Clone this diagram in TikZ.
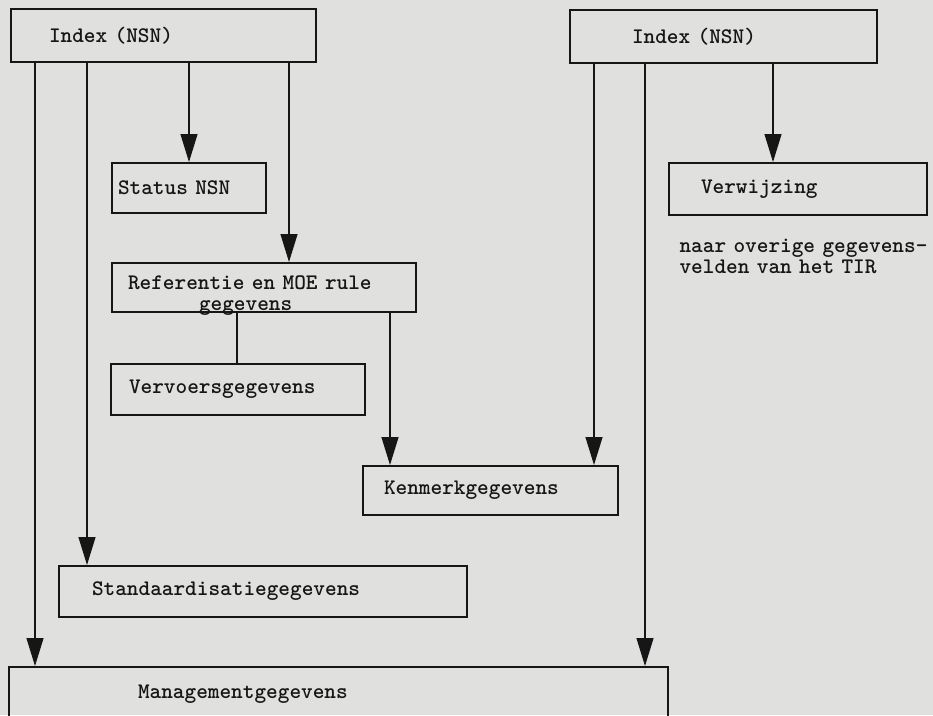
\documentclass[tikz,border=0pt]{standalone}
\usetikzlibrary{arrows.meta}
\definecolor{paper}{RGB}{224,224,222}
\definecolor{ink}{RGB}{22,22,22}
\newcommand\typewriterfont{\ttfamily\bfseries\fontsize{22.2}{21.5}\selectfont
  \fontdimen2\font=\fontcharwd\font`x\fontdimen3\font=0pt\fontdimen4\font=0pt\relax}
\begin{document}
\begin{tikzpicture}[x=1pt, y=-1pt,
  every node/.style = {font=\typewriterfont, text=ink},
  box/.style = {shape=rectangle, draw=ink, line width=2pt, anchor=north west,
    align=left, inner xsep=0pt, inner ysep=0pt},
  link/.style = {draw=ink, line width=1.2pt},
  arr/.style = {link, -{Triangle[length=28pt, width=17pt]}}]
  \fill[paper] (0,0) rectangle (933,715);
  \useasboundingbox (0,0) rectangle (933,715);
  % boxes
  \node[box, minimum width=305, minimum height=53, text width=229] (idxL) at (10,8) {Index (NSN)};
  \node[box, minimum width=307, minimum height=53, text width=183] (idxR) at (569,9) {Index (NSN)};
  \node[box, minimum width=154, minimum height=50, text width=142] (status) at (111,162) {Status NSN};
  \node[box, minimum width=258, minimum height=52, text width=194] (verw) at (668,162) {Verwijzing};
  \node[anchor=base west, align=left, text width=300] (note) at (676,252)
    {naar overige gegevens-\\velden van het TIR};
  \node[box, minimum width=304, minimum height=49, text width=272,
    text height=26pt, text depth=23pt] (ref) at (111,262)
    {Referentie en MOE rule\\\hspace*{71pt}gegevens};
  \node[box, minimum width=254, minimum height=51, text width=218] (vervoer) at (110,363) {Vervoersgegevens};
  \node[box, minimum width=255, minimum height=49, text width=213] (kenmerk) at (362,465) {Kenmerkgegevens};
  \node[box, minimum width=408, minimum height=51, text width=342] (stand) at (58,565) {Standaardisatiegegevens};
  \node[box, minimum width=659, minimum height=54, text width=401] (manag) at (8,666) {Managementgegevens};
  % connectors
  \draw[arr] (idxL.south -| 35,0) -- (manag.north -| 35,0);
  \draw[arr] (idxL.south -| 87,0) -- (stand.north -| 87,0);
  \draw[arr] (idxL.south -| status.north) -- (status.north);
  \draw[arr] (idxL.south -| 289,0) -- (ref.north -| 289,0);
  \draw[link] (ref.south -| 237,0) -- (vervoer.north -| 237,0);
  \draw[arr] (ref.south -| 390,0) -- (kenmerk.north -| 390,0);
  \draw[arr] (idxR.south -| 594,0) -- (kenmerk.north -| 594,0);
  \draw[arr] (idxR.south -| 645,0) -- (manag.north -| 645,0);
  \draw[arr] (idxR.south -| 773,0) -- (verw.north -| 773,0);
\end{tikzpicture}
\end{document}
